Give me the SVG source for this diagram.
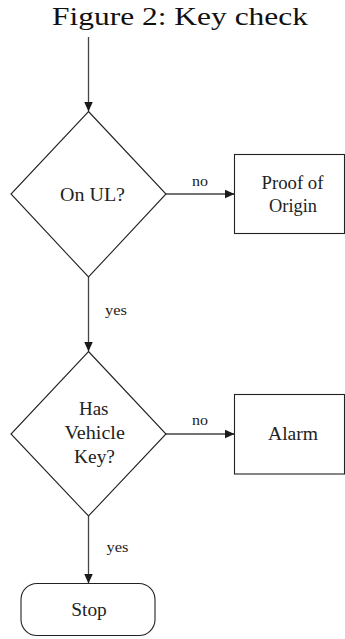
<svg xmlns="http://www.w3.org/2000/svg" width="345" height="639" viewBox="0 0 345 639">
<defs>
<marker id="arr" viewBox="0 0 10 9" refX="10" refY="4.5" markerWidth="10" markerHeight="9" markerUnits="userSpaceOnUse" orient="auto">
<path d="M0,0 L10,4.5 L0,9 Z" fill="#1a1a1a"/>
</marker>
<style>
.shape{fill:#fff;stroke:#222;stroke-width:1.1}
.conn{fill:none;stroke:#444;stroke-width:1.3;marker-end:url(#arr)}
text{font-family:'Liberation Serif','DejaVu Serif',serif;fill:#222}
.t{font-size:18.5px;text-anchor:middle}
.lbl{font-size:15.5px}
.title{font-size:26px;fill:#111;text-anchor:middle}
</style>
</defs>
<rect width="345" height="639" fill="#fff"/>
<text class="title" x="180" y="25" textLength="256" lengthAdjust="spacingAndGlyphs">Figure 2: Key check</text>
<g id="connectors">
<line class="conn" x1="88.5" y1="37" x2="88.5" y2="111.5"/>
<line class="conn" x1="166" y1="194" x2="234.5" y2="194"/>
<line class="conn" x1="88.5" y1="277" x2="88.5" y2="351.5"/>
<line class="conn" x1="166" y1="434" x2="234.5" y2="434"/>
<line class="conn" x1="88.5" y1="516" x2="88.5" y2="583.5"/>
<text class="lbl" x="192" y="186" textLength="16" lengthAdjust="spacingAndGlyphs">no</text>
<text class="lbl" x="105" y="315" textLength="22" lengthAdjust="spacingAndGlyphs">yes</text>
<text class="lbl" x="192" y="425" textLength="16" lengthAdjust="spacingAndGlyphs">no</text>
<text class="lbl" x="106.5" y="552" textLength="22" lengthAdjust="spacingAndGlyphs">yes</text>
</g>
<g id="onul">
<polygon class="shape" points="88.5,111.5 166,194 88.5,277 11,194"/>
<text class="t" x="92.5" y="201" textLength="65" lengthAdjust="spacingAndGlyphs">On UL?</text>
</g>
<g id="proof">
<rect class="shape" x="234.5" y="154.5" width="110" height="79"/>
<text class="t" x="292.5" y="189" textLength="62" lengthAdjust="spacingAndGlyphs">Proof of</text>
<text class="t" x="293" y="212" textLength="48" lengthAdjust="spacingAndGlyphs">Origin</text>
</g>
<g id="haskey">
<polygon class="shape" points="88.5,351.5 166,434 88.5,516 11,434"/>
<text class="t" x="93.7" y="415" textLength="29.5" lengthAdjust="spacingAndGlyphs">Has</text>
<text class="t" x="94.7" y="439" textLength="60.5" lengthAdjust="spacingAndGlyphs">Vehicle</text>
<text class="t" x="94.5" y="463" textLength="41" lengthAdjust="spacingAndGlyphs">Key?</text>
</g>
<g id="alarm">
<rect class="shape" x="234.5" y="394.5" width="110" height="79.5"/>
<text class="t" x="293" y="440" textLength="50" lengthAdjust="spacingAndGlyphs">Alarm</text>
</g>
<g id="stop">
<rect class="shape" x="21" y="583.5" width="134" height="52" rx="16" ry="16"/>
<text class="t" x="89" y="616" textLength="35.5" lengthAdjust="spacingAndGlyphs">Stop</text>
</g>
</svg>
